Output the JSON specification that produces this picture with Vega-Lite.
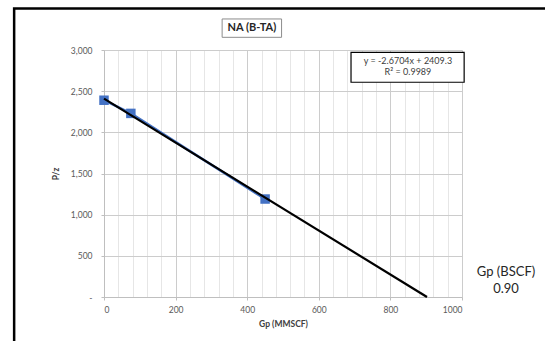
{
  "$schema": "https://vega.github.io/schema/vega-lite/v6.json",
  "width": 358,
  "height": 247,
  "autosize": {"type": "none"},
  "padding": {"left": 104, "top": 50, "right": 83, "bottom": 44},
  "background": "white",
  "config": {
    "view": {"stroke": null},
    "font": "Lato",
    "axis": {"labelFont": "Lato", "titleFont": "Lato", "labelColor": "#595959", "titleColor": "#404040", "labelFontSize": 8.5, "titleFontSize": 8.5, "gridWidth": 1, "tickColor": "#bfbfbf", "tickSize": 3}
  },
  "datasets": {
    "obs": [
      {"gp": 0, "pz": 2390},
      {"gp": 75, "pz": 2230},
      {"gp": 450, "pz": 1190}
    ],
    "trend": [
      {"gp": 0, "pz": 2409.3},
      {"gp": 902.2, "pz": 0}
    ]
  },
  "layer": [
    {
      "data": {"name": "obs"},
      "mark": {"type": "line", "color": "#4472C4", "strokeWidth": 2.5},
      "encoding": {
        "x": {"field": "gp", "type": "quantitative", "scale": {"domain": [0, 1000], "nice": false},
          "axis": {"values": [0,40,80,120,160,200,240,280,320,360,400,440,480,520,560,600,640,680,720,760,800,840,880,920,960,1000],
            "tickCount": 40,
            "labelExpr": "datum.value % 200 == 0 ? datum.value : ''",
            "gridColor": {"expr": "datum.value % 200 == 0 ? '#cccccc' : '#e6e6e6'"},
            "tickOpacity": {"expr": "datum.value % 200 == 0 ? 1 : 0"},
            "labelOverlap": false,
            "title": "Gp (MMSCF)", "titleFontWeight": "bold", "labelPadding": 5, "domainColor": "#bfbfbf", "titlePadding": 6}},
        "y": {"field": "pz", "type": "quantitative", "scale": {"domain": [0, 3000], "nice": false},
          "axis": {"values": [0,500,1000,1500,2000,2500,3000], "tickCount": 10, "gridColor": "#cccccc",
            "labelExpr": "datum.value == 0 ? '-' : format(datum.value, ',')", "title": "P/z", "titleFontWeight": "bold", "domain": true, "domainColor": "#bfbfbf", "labelPadding": 9, "titlePadding": 10}}
      }
    },
    {
      "data": {"name": "obs"},
      "mark": {"type": "square", "color": "#4472C4", "filled": true, "opacity": 1, "size": 90},
      "encoding": {
        "x": {"field": "gp", "type": "quantitative"},
        "y": {"field": "pz", "type": "quantitative"}
      }
    },
    {
      "data": {"name": "trend"},
      "mark": {"type": "line", "color": "black", "strokeWidth": 2.2},
      "encoding": {
        "x": {"field": "gp", "type": "quantitative"},
        "y": {"field": "pz", "type": "quantitative"}
      }
    },
    {
      "data": {"values": [{}]},
      "mark": {"type": "rect", "fill": "white", "stroke": "black", "strokeWidth": 1.2, "clip": false},
      "encoding": {
        "x": {"datum": 690, "type": "quantitative"},
        "x2": {"datum": 1006},
        "y": {"datum": 2972, "type": "quantitative"},
        "y2": {"datum": 2608}
      }
    },
    {
      "data": {"values": [{}]},
      "mark": {"type": "text", "fontSize": 9, "color": "#404040", "align": "center", "baseline": "middle", "clip": false},
      "encoding": {
        "x": {"datum": 849, "type": "quantitative"},
        "y": {"datum": 2870, "type": "quantitative"},
        "text": {"value": "y = -2.6704x + 2409.3"}
      }
    },
    {
      "data": {"values": [{}]},
      "mark": {"type": "text", "fontSize": 9, "color": "#404040", "align": "center", "baseline": "middle", "clip": false},
      "encoding": {
        "x": {"datum": 849, "type": "quantitative"},
        "y": {"datum": 2729, "type": "quantitative"},
        "text": {"value": "R² = 0.9989"}
      }
    },
    {
      "data": {"values": [{}]},
      "mark": {"type": "rect", "fill": "white", "stroke": "#8c8c8c", "strokeWidth": 1, "clip": false},
      "encoding": {
        "x": {"datum": 330, "type": "quantitative"},
        "x2": {"datum": 496},
        "y": {"datum": 3377, "type": "quantitative"},
        "y2": {"datum": 3154}
      }
    },
    {
      "data": {"values": [{}]},
      "mark": {"type": "text", "fontSize": 11, "fontWeight": "bold", "color": "#262626", "align": "center", "baseline": "middle", "clip": false},
      "encoding": {
        "x": {"datum": 413, "type": "quantitative"},
        "y": {"datum": 3271, "type": "quantitative"},
        "text": {"value": "NA (B-TA)"}
      }
    },
    {
      "data": {"values": [{}]},
      "mark": {"type": "text", "fontSize": 13, "color": "#262626", "align": "center", "baseline": "middle", "clip": false},
      "encoding": {
        "x": {"datum": 1123, "type": "quantitative"},
        "y": {"datum": 307, "type": "quantitative"},
        "text": {"value": "Gp (BSCF)"}
      }
    },
    {
      "data": {"values": [{}]},
      "mark": {"type": "text", "fontSize": 13, "color": "#262626", "align": "center", "baseline": "middle", "clip": false},
      "encoding": {
        "x": {"datum": 1123, "type": "quantitative"},
        "y": {"datum": 97, "type": "quantitative"},
        "text": {"value": "0.90"}
      }
    },
    {
      "data": {"values": [{}]},
      "mark": {"type": "rect", "fill": null, "filled": false, "stroke": "black", "strokeWidth": 2.5, "clip": false},
      "encoding": {
        "x": {"datum": -251, "type": "quantitative"},
        "x2": {"datum": 1600},
        "y": {"datum": 3504, "type": "quantitative"},
        "y2": {"datum": -1500}
      }
    }
  ]
}
